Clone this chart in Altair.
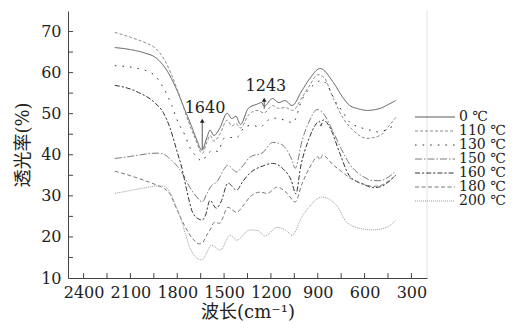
import altair as alt
import pandas as pd

labels = ["0 ℃", "110 ℃", "130 ℃", "150 ℃", "160 ℃", "180 ℃", "200 ℃"]

s0_x = [2200,2100,2020,1930,1866,1802,1750,1706,1674,1642,1610,1590,1565,1530,1480,1450,1425,1395,1345,1290,1260,1243,1190,1150,1110,1065,1000,950,885,800,740,695,640,585,500,450,400]
s0_y = [66.1,65.6,64.9,63.4,60.5,55.7,50.8,46.7,43.5,41.1,44.2,46.0,44.7,46.3,50.1,48.8,49.4,47.4,51.3,52.3,52.7,51.8,53.7,52.7,53.2,52.0,55.7,58.6,61.0,57.6,54.0,52.0,51.2,50.8,51.3,52.2,53.2]

s110_x = [2200,2100,2000,1945,1880,1835,1770,1720,1685,1640,1610,1590,1565,1530,1480,1450,1425,1395,1345,1290,1243,1190,1150,1110,1060,1000,950,900,860,800,740,675,585,500,440,400]
s110_y = [69.8,68.6,67.2,66.1,63.0,59.3,52.7,47.2,44.0,40.3,43.0,44.7,43.3,44.8,48.4,47.0,47.6,46.5,49.6,50.8,50.2,52.0,51.3,51.5,50.8,54.0,57.0,59.5,58.8,53.7,49.1,46.0,44.0,44.7,47.2,49.1]

s130_x = [2200,2050,1945,1890,1835,1795,1750,1720,1685,1640,1610,1570,1540,1500,1460,1420,1370,1320,1270,1220,1170,1110,1060,1000,930,875,820,790,745,695,630,565,500,450,400]
s130_y = [61.7,61.0,59.3,56.4,52.0,47.9,44.7,41.8,39.9,38.5,40.0,41.1,40.8,44.0,44.2,44.2,46.7,47.2,46.7,48.4,48.9,48.4,47.8,53.5,56.9,58.1,55.7,53.2,50.8,47.9,46.7,46.0,45.5,46.4,47.2]

s150_x = [2200,2100,2000,1930,1880,1850,1800,1760,1720,1675,1640,1610,1580,1550,1475,1420,1380,1335,1250,1190,1150,1110,1065,1045,1000,950,905,870,800,750,700,650,600,550,500,450,400]
s150_y = [39.1,39.6,40.2,40.4,40.0,39.1,37.2,35.0,32.1,29.7,28.5,30.6,32.5,33.3,37.4,35.8,37.3,39.4,40.6,43.0,42.8,41.8,38.7,36.7,43.5,48.5,51.0,50.3,45.5,41.5,38.0,35.8,34.5,33.7,33.7,34.5,36.0]

s160_x = [2200,2100,2050,1945,1890,1845,1800,1770,1740,1700,1660,1640,1620,1590,1550,1520,1475,1420,1380,1335,1250,1190,1120,1070,1040,1010,960,910,890,880,865,820,760,700,650,600,550,500,450,400]
s160_y = [56.9,56.0,55.2,52.7,50.3,46.4,40.6,36.7,31.5,25.8,24.3,24.1,25.2,28.9,27.0,28.5,33.1,31.4,33.5,35.5,37.3,37.9,36.5,33.8,30.5,37.0,43.5,47.5,48.2,47.0,48.5,46.5,40.5,35.0,33.5,32.7,32.0,32.2,33.3,35.0]

s180_x = [2200,2100,2000,1930,1880,1850,1800,1750,1700,1660,1640,1610,1590,1560,1530,1475,1420,1380,1335,1270,1225,1160,1095,1045,1000,950,900,885,870,800,750,700,650,600,550,500,450,400]
s180_y = [36.0,34.9,33.6,32.6,31.7,30.6,26.5,22.5,19.5,18.3,18.5,20.5,21.7,23.6,23.3,27.2,26.0,27.5,29.7,30.9,30.6,32.1,30.6,28.5,33.0,37.0,39.5,38.8,39.9,37.5,36.0,34.5,33.5,32.8,32.3,32.5,33.5,35.0]

s200_x = [2200,2100,2000,1930,1880,1850,1820,1780,1750,1720,1680,1640,1620,1580,1525,1460,1420,1335,1280,1240,1160,1100,1065,1000,950,875,780,715,630,545,455,400]
s200_y = [30.6,31.3,32.0,32.4,32.3,31.0,28.5,24.8,21.0,17.5,15.0,14.4,15.5,18.0,16.8,20.4,19.2,21.7,21.5,20.2,22.3,21.5,20.4,25.0,27.5,29.7,27.7,23.6,22.1,21.7,22.4,24.1]

x_labels = [2400, 2100, 1800, 1500, 1200, 900, 600, 300]
y_labels = [10, 20, 30, 40, 50, 60, 70]
x_ticks = [2400, 2250, 2100, 1950, 1800, 1650, 1500, 1350, 1200, 1050, 900, 750, 600, 450, 300]
y_ticks = [15, 20, 25, 30, 35, 40, 45, 50, 55, 60, 65, 70]

ann_text = ["1640", "1243"]
ann_pos = [1640, 1243]
ann_text_x = [1622, 1232]
ann_text_y = [51.4, 56.8]
arrow_lo = [41.3, 51.2]
arrow_hi = [48.3, 53.4]

colors = ["#5a5a5a", "#8a8a8a", "#333333", "#7a7a7a", "#333333", "#777777", "#9a9a9a"]
dashes = [[1, 0], [3, 2], [1.6, 6], [7, 2, 1.5, 2], [5, 2, 2.2, 2], [4, 2.5], [1, 1]]
widths = [1.0, 1.0, 2.0, 1.0, 1.3, 1.0, 1.0]

series = [(s0_x, s0_y), (s110_x, s110_y), (s130_x, s130_y), (s150_x, s150_y),
          (s160_x, s160_y), (s180_x, s180_y), (s200_x, s200_y)]
rows = []
for lab, (xs, ys) in zip(labels, series):
    for xv, yv in zip(xs, ys):
        rows.append({"series": lab, "wn": xv, "t": yv})
df = pd.DataFrame(rows)

SERIF = "DejaVu Serif"
TITLEFONT = "DejaVu Serif, Noto Sans CJK SC"

xscale = alt.Scale(domain=[200, 2500], reverse=True, nice=False, zero=False)
yscale = alt.Scale(domain=[10, 75], nice=False, zero=False)
cscale = alt.Scale(domain=labels, range=colors)
dscale = alt.Scale(domain=labels, range=dashes)
wscale = alt.Scale(domain=labels, range=widths)

lines = alt.Chart(df).mark_line(interpolate="monotone").encode(
    x=alt.X("wn:Q", scale=xscale,
            axis=alt.Axis(values=x_labels, title="波长(cm⁻¹)", format="d")),
    y=alt.Y("t:Q", scale=yscale,
            axis=alt.Axis(values=y_labels, title="透光率(%)")),
    color=alt.Color("series:N", scale=cscale, legend=None),
    strokeDash=alt.StrokeDash("series:N", scale=dscale, legend=None),
    size=alt.Size("series:N", scale=wscale, legend=None),
)

xt = pd.DataFrame({"v": x_ticks, "y0": 10.0, "y1": 11.2})
xtick_rules = alt.Chart(xt).mark_rule(color="#444", strokeWidth=1).encode(
    x=alt.X("v:Q", scale=xscale), y=alt.Y("y0:Q", scale=yscale), y2="y1:Q")

yt = pd.DataFrame({"v": y_ticks, "x0": 2500.0, "x1": 2468.0})
ytick_rules = alt.Chart(yt).mark_rule(color="#444", strokeWidth=1).encode(
    y=alt.Y("v:Q", scale=yscale), x=alt.X("x0:Q", scale=xscale), x2="x1:Q")

border = alt.Chart(pd.DataFrame({"x": [200], "y0": [10], "y1": [75]})).mark_rule(
    color="#e2e2e2", strokeWidth=1).encode(
    x=alt.X("x:Q", scale=xscale), y=alt.Y("y0:Q", scale=yscale), y2="y1:Q")

ann = pd.DataFrame({"label": ann_text, "pos": ann_pos, "tx": ann_text_x, "ty": ann_text_y,
                    "lo": arrow_lo, "hi": arrow_hi})
arrows = alt.Chart(ann).mark_rule(color="#555", strokeWidth=1).encode(
    x=alt.X("pos:Q", scale=xscale), y=alt.Y("lo:Q", scale=yscale), y2="hi:Q")
heads = alt.Chart(ann).mark_point(shape="triangle-up", filled=True, color="#222",
                                  size=22, opacity=1).encode(
    x=alt.X("pos:Q", scale=xscale), y=alt.Y("hi:Q", scale=yscale))
ann_txt = alt.Chart(ann).mark_text(font=SERIF, fontSize=16, color="#222",
                                   baseline="middle", align="center").encode(
    x=alt.X("tx:Q", scale=xscale), y=alt.Y("ty:Q", scale=yscale), text="label:N")

main = alt.layer(lines, xtick_rules, ytick_rules, border, arrows, heads, ann_txt)

legdf = pd.DataFrame({"series": labels})
lscale = alt.Scale(type="point", domain=labels, range=[106, 190], padding=0)
leg_rules = alt.Chart(legdf).mark_rule().encode(
    x=alt.value(347), x2=alt.value(387),
    y=alt.Y("series:N", scale=lscale, axis=None),
    color=alt.Color("series:N", scale=cscale, legend=None),
    strokeDash=alt.StrokeDash("series:N", scale=dscale, legend=None),
    size=alt.Size("series:N", scale=wscale, legend=None),
)
leg_text = alt.Chart(legdf).mark_text(font=SERIF, fontSize=14, color="#222",
                                      align="left", baseline="middle").encode(
    x=alt.value(391),
    y=alt.Y("series:N", scale=lscale, axis=None),
    text="series:N",
)
legend = alt.layer(leg_rules, leg_text)

chart = alt.layer(main, legend).resolve_scale(y="independent").properties(
    width=359, height=267,
    autosize=alt.AutoSizeParams(type="none"),
    padding={"left": 60, "top": 3, "right": 81, "bottom": 44},
).configure_view(stroke=None).configure_axis(
    grid=False, ticks=False, domainColor="#444", domainWidth=1,
    labelFont=SERIF, labelFontSize=16, labelColor="#222",
    titleFont=TITLEFONT, titleFontSize=18, titleFontWeight="normal", titleColor="#222",
).configure_axisX(labelPadding=6, titlePadding=3).configure_axisY(labelPadding=7, titlePadding=8)

chart.save("out.html", embed_options={"renderer": "svg", "actions": False})
